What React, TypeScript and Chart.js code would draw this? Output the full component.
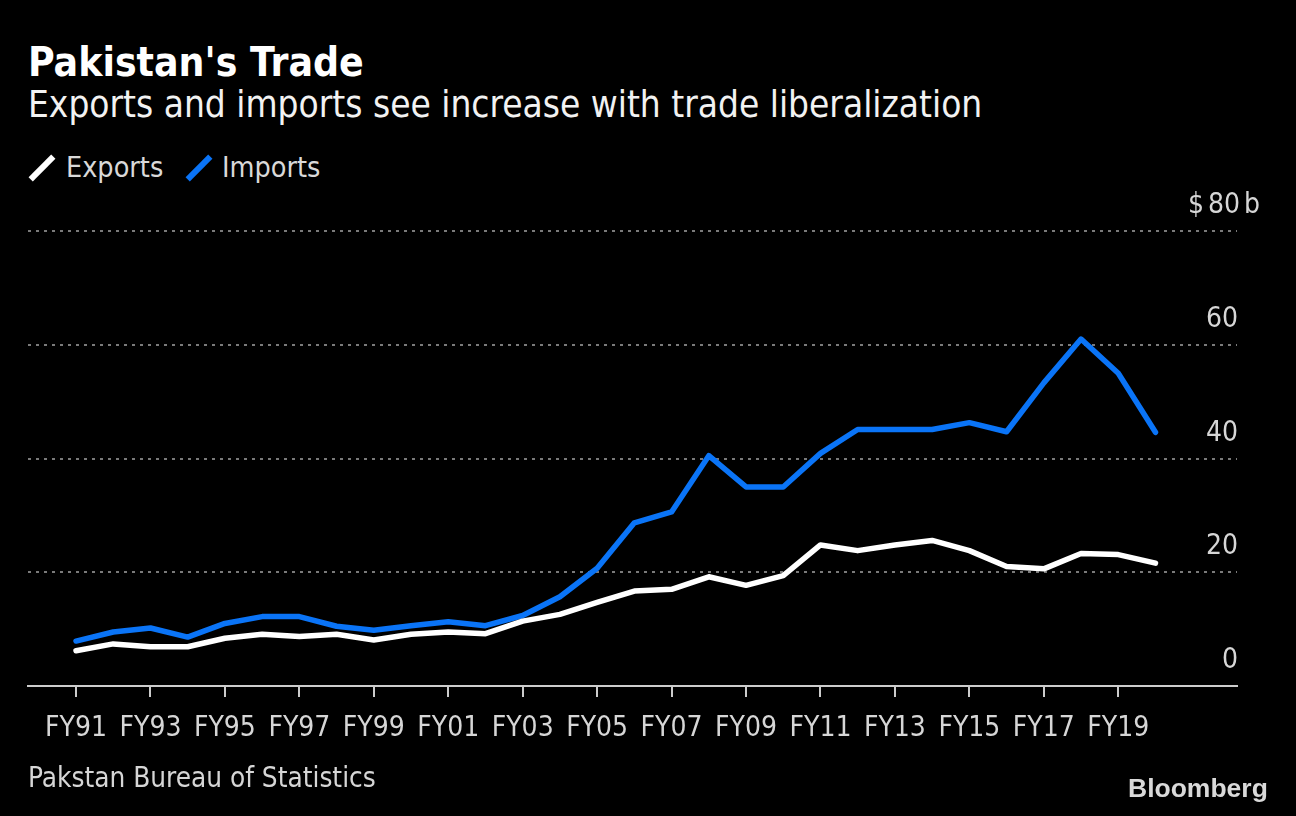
import React, { useEffect, useRef } from "react";
import { Chart, registerables } from "chart.js";

Chart.register(...registerables);

const categories = [
  "FY91", "FY92", "FY93", "FY94", "FY95", "FY96", "FY97", "FY98", "FY99", "FY00",
  "FY01", "FY02", "FY03", "FY04", "FY05", "FY06", "FY07", "FY08", "FY09", "FY10",
  "FY11", "FY12", "FY13", "FY14", "FY15", "FY16", "FY17", "FY18", "FY19", "FY20",
];

const exportsData = [
  6.2, 7.4, 6.9, 6.9, 8.4, 9.1, 8.7, 9.1, 8.1, 9.1,
  9.5, 9.2, 11.4, 12.6, 14.7, 16.7, 17.0, 19.2, 17.7, 19.4,
  24.8, 23.8, 24.8, 25.6, 23.8, 21.0, 20.6, 23.3, 23.1, 21.6,
];

const importsData = [
  7.9, 9.5, 10.2, 8.6, 11.0, 12.2, 12.2, 10.5, 9.8, 10.6,
  11.3, 10.6, 12.4, 15.7, 20.7, 28.7, 30.6, 40.5, 35.0, 35.0,
  40.9, 45.1, 45.1, 45.1, 46.3, 44.7, 53.3, 61.0, 55.0, 44.6,
];

const xTickIndices = [0, 2, 4, 6, 8, 10, 12, 14, 16, 18, 20, 22, 24, 26, 28];
const yTickValues = [0, 20, 40, 60, 80];

const FONT = "'DejaVu Sans Condensed', 'DejaVu Sans', sans-serif";
const BLUE = "#0a74f7";

const yLabelPlugin = {
  id: "yLabels",
  afterDraw(chart: any) {
    const { ctx, chartArea, scales } = chart;
    const y = scales.y;
    ctx.save();
    ctx.font = `28px ${FONT}`;
    ctx.fillStyle = "#d6d6d6";
    ctx.textBaseline = "alphabetic";
    yTickValues.forEach((v, i) => {
      const py = y.getPixelForValue(v) - 18;
      const isTop = i === yTickValues.length - 1;
      const right = chartArea.right + (isTop ? 3 : 1);
      const txt = String(v);
      ctx.textAlign = "right";
      ctx.fillText(txt, right, py);
      if (isTop) {
        const w = ctx.measureText(txt).width;
        ctx.fillText("$", right - w - 4, py);
        ctx.textAlign = "left";
        ctx.fillText("b", right + 4, py);
      }
    });
    ctx.restore();
  },
};

function TradeChart() {
  const ref = useRef<HTMLCanvasElement | null>(null);
  useEffect(() => {
    if (!ref.current) return;
    const chart = new Chart(ref.current, {
      type: "line",
      data: {
        datasets: [
          {
            label: "Exports",
            data: exportsData.map((v, i) => ({ x: i, y: v })),
            borderColor: "#ffffff",
            borderWidth: 5.5,
            pointRadius: 0,
            tension: 0,
            borderCapStyle: "round",
            borderJoinStyle: "round",
          },
          {
            label: "Imports",
            data: importsData.map((v, i) => ({ x: i, y: v })),
            borderColor: BLUE,
            borderWidth: 5.5,
            pointRadius: 0,
            tension: 0,
            borderCapStyle: "round",
            borderJoinStyle: "round",
          },
        ],
      },
      options: {
        animation: false,
        responsive: false,
        devicePixelRatio: 1,
        events: [],
        layout: { padding: { left: 28, right: 59, top: 231, bottom: 0 } },
        plugins: {
          legend: { display: false },
          tooltip: { enabled: false },
          title: { display: false },
        },
        scales: {
          x: {
            type: "linear",
            min: -1.29,
            max: 31.19,
            afterFit(scale: any) {
              scale.height = 130;
            },
            afterBuildTicks(scale: any) {
              scale.ticks = xTickIndices.map((v) => ({ value: v }));
            },
            ticks: {
              autoSkip: false,
              maxRotation: 0,
              padding: 15,
              color: "#d6d6d6",
              font: { family: FONT, size: 28 },
              callback: (v: any) => categories[v] ?? "",
            },
            grid: {
              display: true,
              drawOnChartArea: false,
              drawTicks: true,
              tickLength: 11,
              color: "#cccccc",
              lineWidth: 2,
            },
            border: { display: true, color: "#cccccc", width: 2 },
          },
          y: {
            min: 0,
            max: 80,
            afterFit(scale: any) {
              scale.width = 0;
            },
            afterBuildTicks(scale: any) {
              scale.ticks = yTickValues.map((v) => ({ value: v }));
            },
            ticks: { display: false },
            grid: {
              drawTicks: false,
              color: (c: any) => (c.tick && c.tick.value === 0 ? "rgba(0,0,0,0)" : "#7a7a7a"),
              lineWidth: 2,
            },
            border: { display: false, dash: [3, 5] },
          },
        },
      },
      plugins: [yLabelPlugin],
    } as any);
    return () => chart.destroy();
  }, []);
  return (
    <canvas
      ref={ref}
      width={1296}
      height={816}
      style={{ position: "absolute", left: 0, top: 0, width: 1296, height: 816 }}
    />
  );
}

export default function App() {
  useEffect(() => {
    document.body.style.margin = "0";
    document.body.style.background = "#000";
  }, []);
  const textBase: React.CSSProperties = {
    position: "absolute",
    whiteSpace: "nowrap",
    fontFamily: FONT,
    lineHeight: 1,
  };
  const icon = (cx: number, color: string): React.CSSProperties => ({
    position: "absolute",
    left: cx - 16,
    top: 168 - 3,
    width: 32,
    height: 6,
    background: color,
    transform: "rotate(-45deg)",
  });
  return (
    <div
      style={{
        position: "relative",
        width: 1296,
        height: 816,
        background: "#000",
        overflow: "hidden",
      }}
    >
      <div style={{ ...textBase, left: 28, top: 42, fontSize: 40.5, fontWeight: 700, color: "#ffffff" }}>
        Pakistan's Trade
      </div>
      <div style={{ ...textBase, left: 28, top: 87, fontSize: 36.7, color: "#f2f2f2" }}>
        Exports and imports see increase with trade liberalization
      </div>
      <div style={icon(41.5, "#ffffff")} />
      <div style={{ ...textBase, left: 66, top: 154, fontSize: 28.5, color: "#d9d9d9" }}>Exports</div>
      <div style={icon(198.5, BLUE)} />
      <div style={{ ...textBase, left: 222, top: 154, fontSize: 28.5, color: "#d9d9d9" }}>Imports</div>
      <TradeChart />
      <div style={{ ...textBase, left: 28, top: 764, fontSize: 27.7, color: "#d6d6d6" }}>
        Pakstan Bureau of Statistics
      </div>
      <div
        style={{
          ...textBase,
          left: 1128,
          top: 775,
          fontSize: 26.5,
          fontWeight: 700,
          fontFamily: "'Liberation Sans', Arial, sans-serif",
          color: "#d9d9d9",
        }}
      >
        Bloomberg
      </div>
    </div>
  );
}
